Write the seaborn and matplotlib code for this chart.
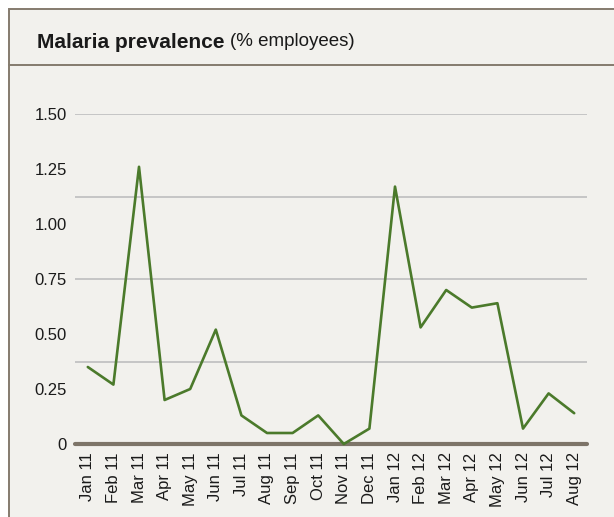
import numpy as np
import pandas as pd
import matplotlib
matplotlib.use("Agg")
import matplotlib.pyplot as plt
import seaborn as sns
from matplotlib.patches import Rectangle
from matplotlib.lines import Line2D

# Chart data
months = ["Jan 11", "Feb 11", "Mar 11", "Apr 11", "May 11", "Jun 11", "Jul 11",
          "Aug 11", "Sep 11", "Oct 11", "Nov 11", "Dec 11", "Jan 12", "Feb 12",
          "Mar 12", "Apr 12", "May 12", "Jun 12", "Jul 12", "Aug 12"]
prevalence = [0.35, 0.27, 1.26, 0.20, 0.25, 0.52, 0.13, 0.05, 0.05, 0.13,
              0.0, 0.07, 1.17, 0.53, 0.70, 0.62, 0.64, 0.07, 0.23, 0.14]
ytick_vals = [0, 0.25, 0.5, 0.75, 1.0, 1.25, 1.5]
ytick_labels = ["0", "0.25", "0.50", "0.75", "1.00", "1.25", "1.50"]
grid_vals = [0.375, 0.75, 1.125, 1.5]

sns.set_theme(style="white")
plt.rcParams['font.family'] = ['Liberation Sans', 'DejaVu Sans']

bg = "#f2f1ed"
frame_col = "#857b6e"
green = "#4b7a2b"

W, H = 614, 517
fig = plt.figure(figsize=(W / 100, H / 100), dpi=100)
fig.patch.set_facecolor("white")

# panel frame
fig.patches.append(Rectangle((9 / W, -0.02), 1.05, (H - 9) / H + 0.02,
                             transform=fig.transFigure, facecolor=bg,
                             edgecolor=frame_col, lw=1.4, zorder=-2))
fig.lines.append(Line2D([9 / W, 1], [(H - 65) / H] * 2, transform=fig.transFigure,
                        color=frame_col, lw=1.4, zorder=-1))

ax = fig.add_axes([75 / W, (H - 444) / H, (587 - 75) / W, (444 - 114) / H])
ax.set_zorder(2)
ax.patch.set_alpha(0)

df = pd.DataFrame({"pos": np.arange(len(months)), "value": prevalence})
for g in grid_vals:
    ax.axhline(g, color="#c2c2c2", lw=1.3, zorder=1)
sns.lineplot(data=df, x="pos", y="value", color=green, lw=1.9, ax=ax, zorder=3,
             clip_on=False)
ax.axhline(0, color="#7d7468", lw=3.0, zorder=2, clip_on=False)

ax.set_xlim(-0.5, len(months) - 0.5)
ax.set_ylim(0, 1.5)
ax.set_xticks(df["pos"])
ax.set_xticklabels(months, rotation=90, fontsize=12, color="#1a1a1a")
ax.set_yticks(ytick_vals)
ax.set_yticklabels(ytick_labels, fontsize=12, color="#1a1a1a")
ax.tick_params(axis="both", length=0)
ax.tick_params(axis="y", pad=6)
ax.tick_params(axis="x", pad=6)
ax.set_xlabel("")
ax.set_ylabel("")
for s in ax.spines.values():
    s.set_visible(False)

# title
t1 = fig.text(37 / W, (H - 42) / H, "Malaria prevalence", fontsize=15,
              fontweight="bold", color="#1a1a1a", va="center", ha="left")
fig.canvas.draw()
bb = t1.get_window_extent(fig.canvas.get_renderer())
fig.text((bb.x1 + 5) / W, (H - 42) / H, "(% employees)", fontsize=13.5,
         color="#1a1a1a", va="center", ha="left")

fig.savefig("out.png", dpi=100, facecolor=fig.get_facecolor())
